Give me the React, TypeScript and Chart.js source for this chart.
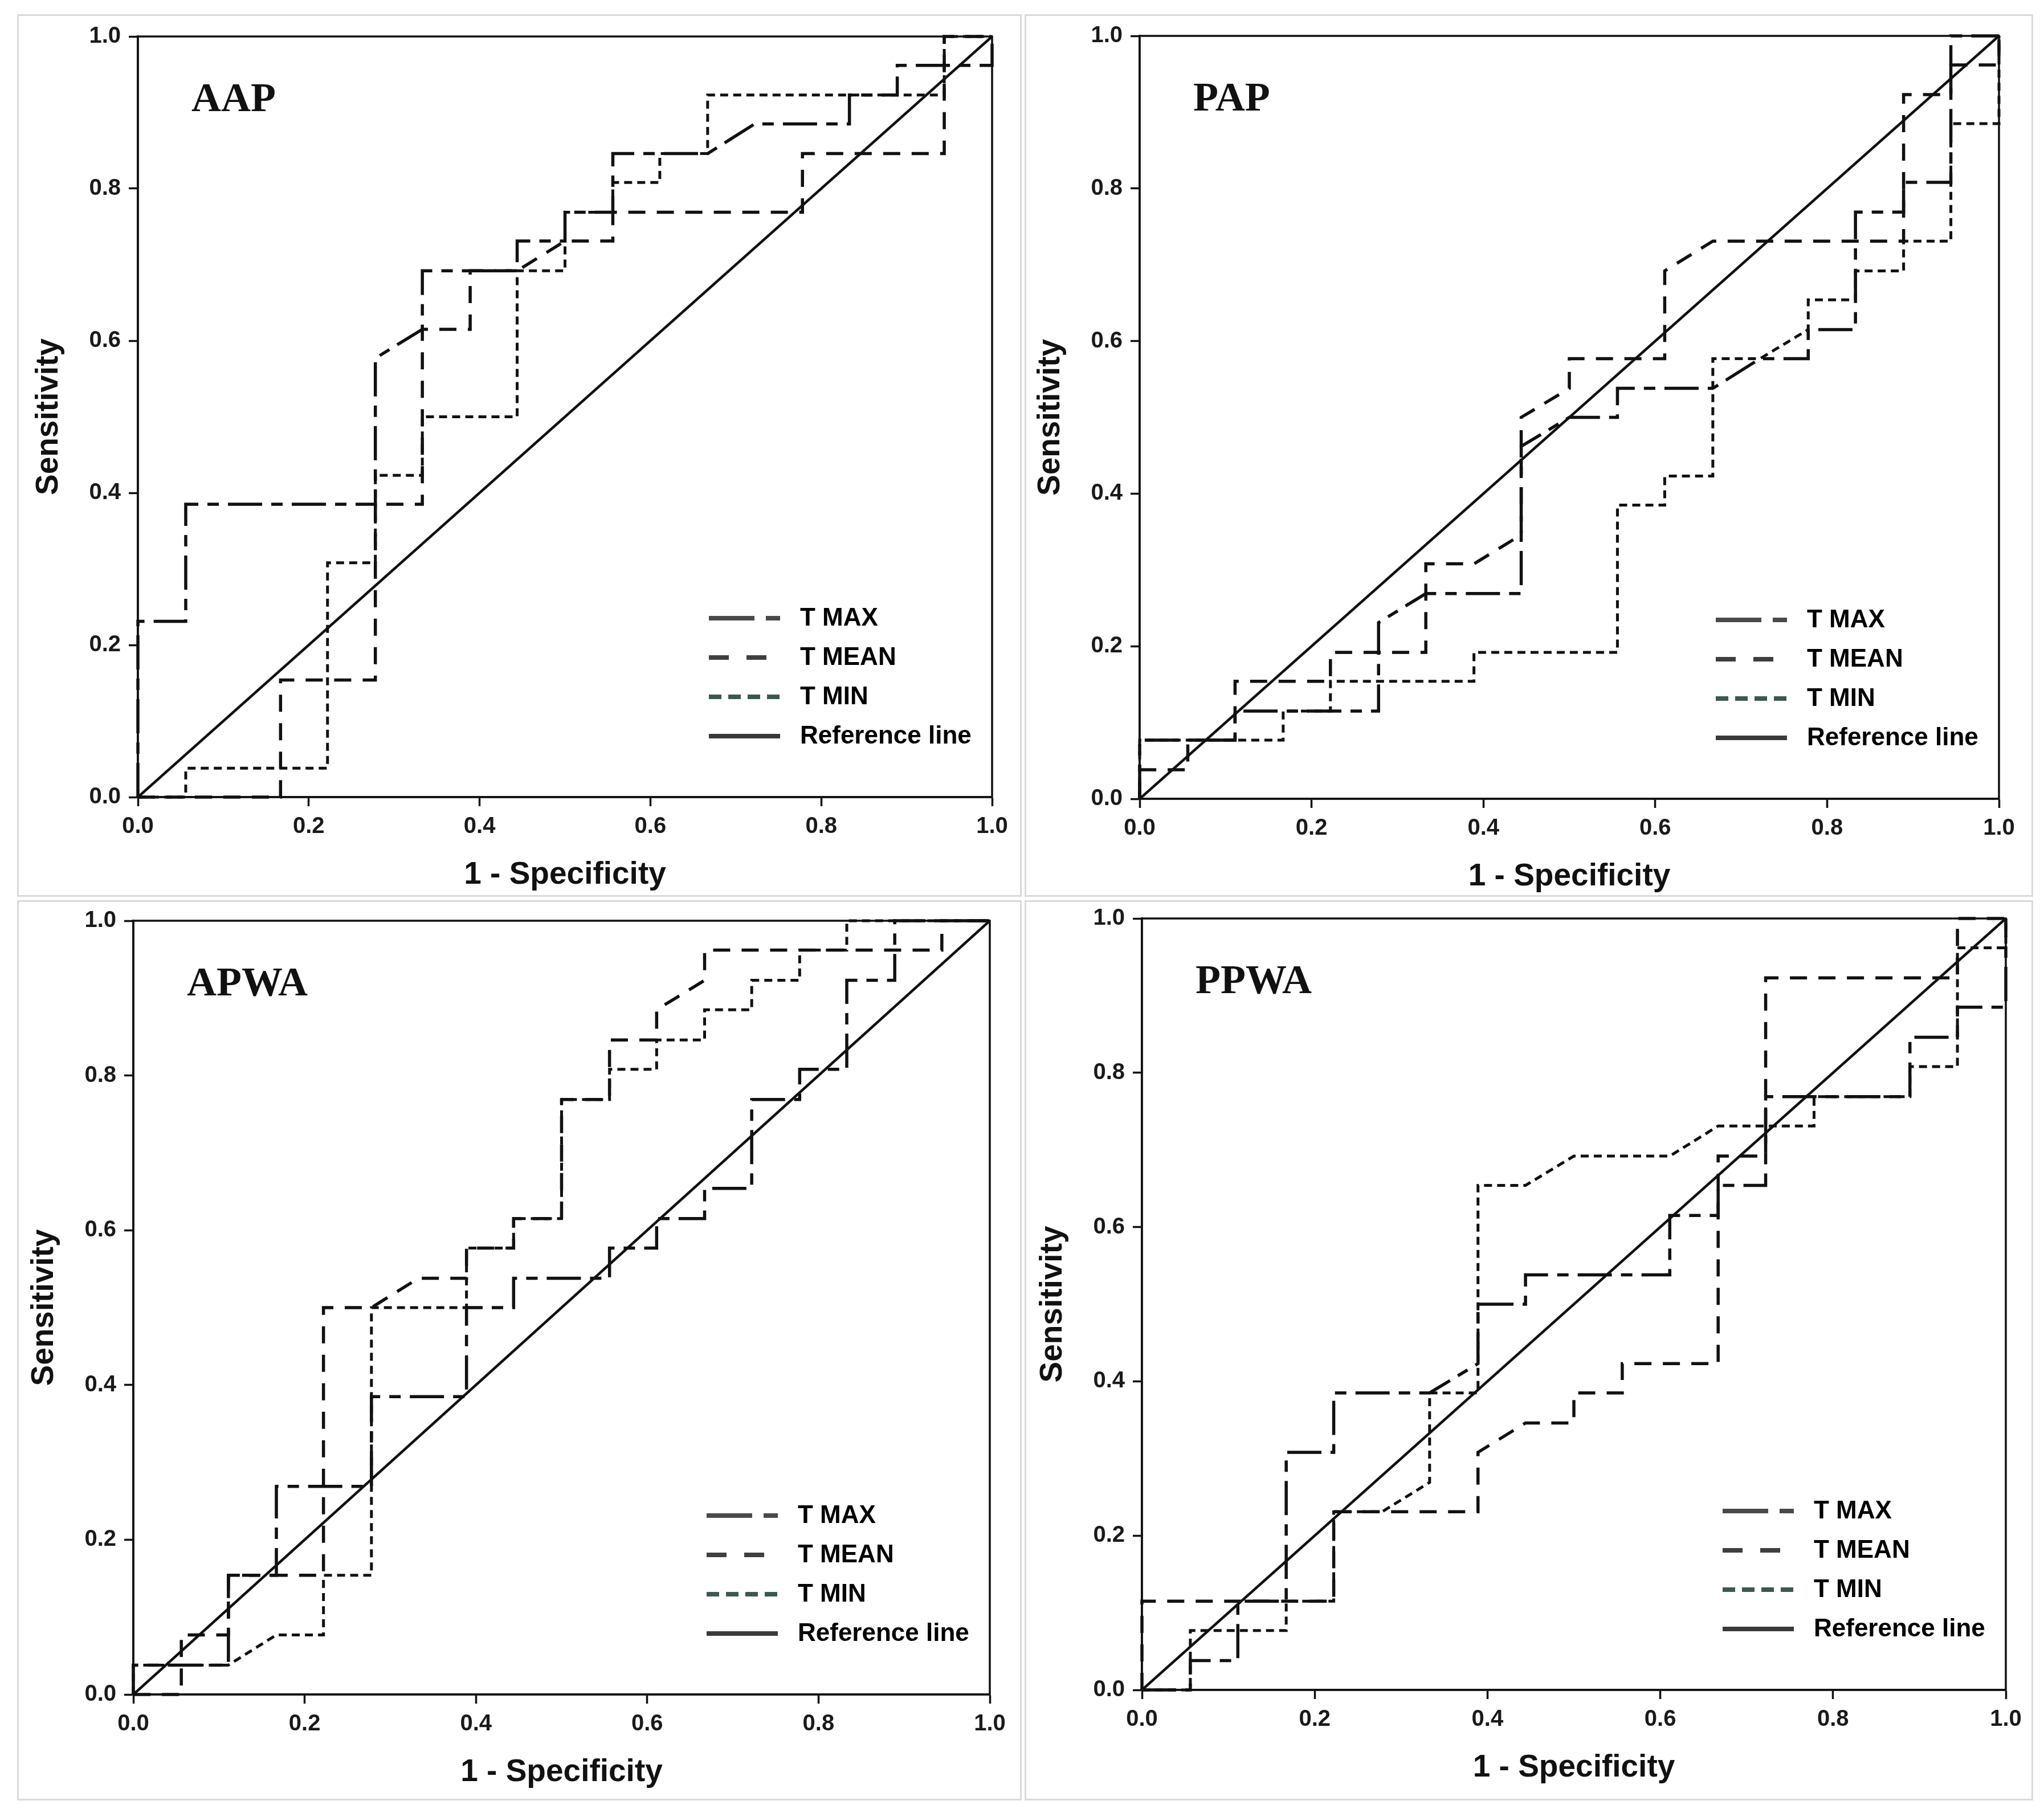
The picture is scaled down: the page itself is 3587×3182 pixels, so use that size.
import React, { useEffect, useRef } from "react";
import { Chart, registerables } from "chart.js";
Chart.register(...registerables);

// ---------- text ----------
const SERIES_LABELS = ["T MAX", "T MEAN", "T MIN", "Reference line"];
const PANEL_NAMES = ["AAP", "PAP", "APWA", "PPWA"];
const X_TITLE = "1 - Specificity";
const Y_TITLE = "Sensitivity";
const TICK_VALUES = [0, 0.2, 0.4, 0.6, 0.8, 1.0];

// ---------- data (1 - specificity, sensitivity) ----------
const AAP_TMAX_X = [0, 0, 0.056, 0.056, 0.278, 0.278, 0.333, 0.333, 0.444, 0.444, 0.5, 0.5, 0.556, 0.556, 0.667, 0.722, 0.833, 0.833, 0.889, 0.889, 1, 1];
const AAP_TMAX_Y = [0, 0.231, 0.231, 0.385, 0.385, 0.577, 0.615, 0.692, 0.692, 0.731, 0.731, 0.769, 0.769, 0.846, 0.846, 0.885, 0.885, 0.923, 0.923, 0.962, 0.962, 1];
const AAP_TMEAN_X = [0, 0.167, 0.167, 0.278, 0.278, 0.333, 0.333, 0.389, 0.389, 0.444, 0.5, 0.556, 0.556, 0.778, 0.778, 0.944, 0.944, 1];
const AAP_TMEAN_Y = [0, 0, 0.154, 0.154, 0.385, 0.385, 0.615, 0.615, 0.692, 0.692, 0.731, 0.731, 0.769, 0.769, 0.846, 0.846, 1, 1];
const AAP_TMIN_X = [0, 0.056, 0.056, 0.222, 0.222, 0.278, 0.278, 0.333, 0.333, 0.444, 0.444, 0.5, 0.5, 0.556, 0.556, 0.611, 0.611, 0.667, 0.667, 0.944, 0.944, 1];
const AAP_TMIN_Y = [0, 0, 0.038, 0.038, 0.308, 0.308, 0.423, 0.423, 0.5, 0.5, 0.692, 0.692, 0.769, 0.769, 0.808, 0.808, 0.846, 0.846, 0.923, 0.923, 1, 1];

const PAP_TMAX_X = [0, 0, 0.111, 0.111, 0.278, 0.278, 0.333, 0.444, 0.444, 0.5, 0.556, 0.556, 0.667, 0.722, 0.778, 0.778, 0.833, 0.833, 0.889, 0.889, 0.944, 0.944, 1];
const PAP_TMAX_Y = [0, 0.077, 0.077, 0.115, 0.115, 0.231, 0.269, 0.269, 0.462, 0.5, 0.5, 0.538, 0.538, 0.577, 0.577, 0.615, 0.615, 0.769, 0.769, 0.808, 0.808, 1, 1];
const PAP_TMEAN_X = [0, 0, 0.056, 0.056, 0.111, 0.111, 0.222, 0.222, 0.333, 0.333, 0.389, 0.444, 0.444, 0.5, 0.5, 0.611, 0.611, 0.667, 0.889, 0.889, 0.944, 0.944, 1, 1];
const PAP_TMEAN_Y = [0, 0.038, 0.038, 0.077, 0.077, 0.154, 0.154, 0.192, 0.192, 0.308, 0.308, 0.346, 0.5, 0.538, 0.577, 0.577, 0.692, 0.731, 0.731, 0.923, 0.923, 0.962, 0.962, 1];
const PAP_TMIN_X = [0, 0, 0.167, 0.167, 0.222, 0.222, 0.389, 0.389, 0.556, 0.556, 0.611, 0.611, 0.667, 0.667, 0.722, 0.778, 0.778, 0.833, 0.833, 0.889, 0.889, 0.944, 0.944, 1, 1];
const PAP_TMIN_Y = [0, 0.077, 0.077, 0.115, 0.115, 0.154, 0.154, 0.192, 0.192, 0.385, 0.385, 0.423, 0.423, 0.577, 0.577, 0.615, 0.654, 0.654, 0.692, 0.692, 0.731, 0.731, 0.885, 0.885, 1];

const APWA_TMAX_X = [0, 0, 0.111, 0.111, 0.167, 0.167, 0.278, 0.278, 0.389, 0.389, 0.444, 0.444, 0.556, 0.556, 0.611, 0.611, 0.667, 0.667, 0.722, 0.722, 0.778, 0.778, 0.833, 0.833, 0.889, 0.889, 1];
const APWA_TMAX_Y = [0, 0.038, 0.038, 0.154, 0.154, 0.269, 0.269, 0.385, 0.385, 0.5, 0.5, 0.538, 0.538, 0.577, 0.577, 0.615, 0.615, 0.654, 0.654, 0.769, 0.769, 0.808, 0.808, 0.923, 0.923, 1, 1];
const APWA_TMEAN_X = [0, 0.056, 0.056, 0.111, 0.111, 0.222, 0.222, 0.278, 0.333, 0.389, 0.389, 0.444, 0.444, 0.5, 0.5, 0.556, 0.556, 0.611, 0.611, 0.667, 0.667, 0.944, 0.944, 1];
const APWA_TMEAN_Y = [0, 0, 0.077, 0.077, 0.154, 0.154, 0.5, 0.5, 0.538, 0.538, 0.577, 0.577, 0.615, 0.615, 0.769, 0.769, 0.846, 0.846, 0.885, 0.923, 0.962, 0.962, 1, 1];
const APWA_TMIN_X = [0, 0, 0.111, 0.167, 0.222, 0.222, 0.278, 0.278, 0.389, 0.389, 0.444, 0.444, 0.5, 0.5, 0.556, 0.556, 0.611, 0.611, 0.667, 0.667, 0.722, 0.722, 0.778, 0.778, 0.833, 0.833, 1];
const APWA_TMIN_Y = [0, 0.038, 0.038, 0.077, 0.077, 0.154, 0.154, 0.5, 0.5, 0.577, 0.577, 0.615, 0.615, 0.769, 0.769, 0.808, 0.808, 0.846, 0.846, 0.885, 0.885, 0.923, 0.923, 0.962, 0.962, 1, 1];

const PPWA_TMAX_X = [0, 0.056, 0.056, 0.111, 0.111, 0.167, 0.167, 0.222, 0.222, 0.333, 0.389, 0.389, 0.444, 0.444, 0.611, 0.611, 0.667, 0.667, 0.722, 0.722, 0.889, 0.889, 0.944, 0.944, 1, 1];
const PPWA_TMAX_Y = [0, 0, 0.038, 0.038, 0.115, 0.115, 0.308, 0.308, 0.385, 0.385, 0.423, 0.5, 0.5, 0.538, 0.538, 0.615, 0.615, 0.654, 0.654, 0.769, 0.769, 0.846, 0.846, 0.885, 0.885, 1];
const PPWA_TMEAN_X = [0, 0, 0.222, 0.222, 0.389, 0.389, 0.444, 0.5, 0.5, 0.556, 0.556, 0.667, 0.667, 0.722, 0.722, 0.944, 0.944, 1];
const PPWA_TMEAN_Y = [0, 0.115, 0.115, 0.231, 0.231, 0.308, 0.346, 0.346, 0.385, 0.385, 0.423, 0.423, 0.692, 0.692, 0.923, 0.923, 1, 1];
const PPWA_TMIN_X = [0, 0.056, 0.056, 0.167, 0.167, 0.222, 0.222, 0.278, 0.333, 0.333, 0.389, 0.389, 0.444, 0.5, 0.611, 0.667, 0.778, 0.778, 0.889, 0.889, 0.944, 0.944, 1, 1];
const PPWA_TMIN_Y = [0, 0, 0.077, 0.077, 0.115, 0.115, 0.231, 0.231, 0.269, 0.385, 0.385, 0.654, 0.654, 0.692, 0.692, 0.731, 0.731, 0.769, 0.769, 0.808, 0.808, 0.962, 0.962, 1];

const REF_X = [0, 1];
const REF_Y = [0, 1];

const PANEL_SERIES = [
  [[AAP_TMAX_X, AAP_TMAX_Y], [AAP_TMEAN_X, AAP_TMEAN_Y], [AAP_TMIN_X, AAP_TMIN_Y], [REF_X, REF_Y]],
  [[PAP_TMAX_X, PAP_TMAX_Y], [PAP_TMEAN_X, PAP_TMEAN_Y], [PAP_TMIN_X, PAP_TMIN_Y], [REF_X, REF_Y]],
  [[APWA_TMAX_X, APWA_TMAX_Y], [APWA_TMEAN_X, APWA_TMEAN_Y], [APWA_TMIN_X, APWA_TMIN_Y], [REF_X, REF_Y]],
  [[PPWA_TMAX_X, PPWA_TMAX_Y], [PPWA_TMEAN_X, PPWA_TMEAN_Y], [PPWA_TMIN_X, PPWA_TMIN_Y], [REF_X, REF_Y]],
];

// ---------- layout & style ----------
// plot rectangles (left, top, right, bottom) in page pixels
const PLOT_RECTS = [
  [242, 54, 1741, 1399],
  [2000, 53, 3508, 1402],
  [234, 1606, 1737, 2974],
  [2004, 1602, 3520, 2966],
];
// panel frames (left, top, right, bottom)
const FRAME_RECTS = [
  [30, 25, 1793, 1574],
  [1798, 25, 3568, 1574],
  [30, 1580, 1793, 3160],
  [1798, 1580, 3568, 3160],
];

const PAD_LEFT = 21;
const Y_AXIS_W = 189;
const PAD_TOP = 28;
const PAD_RIGHT = 50;
const X_AXIS_H = 170;
const PAD_BOTTOM = 5;

const LINE_COLOR = "#111111";
const SERIES_STYLE = [
  { dash: [60, 16, 20, 16], width: 5.5, legendDash: [80, 20, 25, 300], legendColor: "#4a4a4a" },
  { dash: [30, 20], width: 5.5, legendDash: [35, 31], legendColor: "#3f3f3f" },
  { dash: [14, 9], width: 5, legendDash: [22, 12], legendColor: "#3d5853" },
  { dash: [], width: 4.5, legendDash: [], legendColor: "#3a3a3a" },
];
const LEGEND_ROW_OFFSETS = [-314, -245, -176, -107];
const SANS = "'Liberation Sans', Arial, sans-serif";
const SERIF = "'Liberation Serif', 'Times New Roman', serif";

function makeOverlay(panelName: string) {
  return {
    id: "overlay-" + panelName,
    afterDraw(chart: any) {
      const { ctx, chartArea } = chart;
      const { left, top, right, bottom } = chartArea;
      ctx.save();
      // plot frame
      ctx.strokeStyle = LINE_COLOR;
      ctx.lineWidth = 3.5;
      ctx.setLineDash([]);
      ctx.strokeRect(left, top, right - left, bottom - top);
      // panel name
      ctx.fillStyle = "#111";
      ctx.font = `bold 72px ${SERIF}`;
      ctx.textAlign = "left";
      ctx.textBaseline = "middle";
      ctx.fillText(panelName, left + 94, top + 112);
      // legend
      chart.data.datasets.forEach((ds: any, i: number) => {
        const st = SERIES_STYLE[i];
        const y = bottom + LEGEND_ROW_OFFSETS[i];
        ctx.beginPath();
        ctx.strokeStyle = st.legendColor;
        ctx.lineWidth = 8;
        ctx.lineCap = "butt";
        ctx.setLineDash(st.legendDash);
        ctx.moveTo(right - 497, y);
        ctx.lineTo(right - 372, y);
        ctx.stroke();
        ctx.setLineDash([]);
        ctx.fillStyle = "#000";
        ctx.font = `bold 44px ${SANS}`;
        ctx.textAlign = "left";
        ctx.textBaseline = "middle";
        ctx.fillText(ds.label, right - 337, y + 1);
      });
      ctx.restore();
    },
  };
}

function RocPanel({ index }: { index: number }) {
  const ref = useRef<HTMLCanvasElement | null>(null);
  const [pl, pt, pr, pb] = PLOT_RECTS[index];
  const cw = pr - pl + PAD_LEFT + Y_AXIS_W + PAD_RIGHT;
  const ch = pb - pt + PAD_TOP + X_AXIS_H + PAD_BOTTOM;
  const cl = pl - PAD_LEFT - Y_AXIS_W;
  const ct = pt - PAD_TOP;

  useEffect(() => {
    if (!ref.current) return;
    const series = PANEL_SERIES[index];
    const tickFont = { family: SANS, size: 40, weight: "bold" as const };
    const titleFont = { family: SANS, size: 55, weight: "bold" as const };
    const axisCommon = (title: string) => ({
      type: "linear" as const,
      min: 0,
      max: 1,
      afterBuildTicks: (s: any) => {
        s.ticks = TICK_VALUES.map((v) => ({ value: v }));
      },
      ticks: {
        stepSize: 0.2,
        autoSkip: false,
        maxRotation: 0,
        color: "#1a1a1a",
        font: tickFont,
        callback: (v: any) => Number(v).toFixed(1),
      },
      grid: {
        display: true,
        drawOnChartArea: false,
        drawTicks: true,
        tickLength: 16,
        tickWidth: 3.5,
        color: LINE_COLOR,
      },
      border: { display: true, color: LINE_COLOR, width: 3.5 },
      title: { display: true, text: title, color: "#111", font: titleFont, padding: 0 },
    });
    const xAxis: any = axisCommon(X_TITLE);
    xAxis.ticks.padding = 12;
    xAxis.afterFit = (s: any) => {
      s.height = X_AXIS_H;
    };
    const yAxis: any = axisCommon(Y_TITLE);
    yAxis.ticks.padding = 14;
    yAxis.afterFit = (s: any) => {
      s.width = Y_AXIS_W;
    };

    const chart = new Chart(ref.current, {
      type: "line",
      data: {
        datasets: series.map(([xs, ys], i) => ({
          label: SERIES_LABELS[i],
          data: xs.map((x: number, k: number) => ({ x, y: ys[k] })),
          borderColor: LINE_COLOR,
          borderWidth: SERIES_STYLE[i].width,
          borderDash: SERIES_STYLE[i].dash,
          borderCapStyle: "butt",
          borderJoinStyle: "miter",
          pointRadius: 0,
          pointHoverRadius: 0,
          tension: 0,
          fill: false,
          clip: 6,
        })),
      },
      options: {
        animation: false,
        responsive: false,
        maintainAspectRatio: false,
        devicePixelRatio: 1,
        events: [],
        layout: { padding: { left: PAD_LEFT, top: PAD_TOP, right: PAD_RIGHT, bottom: PAD_BOTTOM } },
        plugins: { legend: { display: false }, tooltip: { enabled: false }, title: { display: false } },
        scales: { x: xAxis, y: yAxis },
      } as any,
      plugins: [makeOverlay(PANEL_NAMES[index])],
    });
    return () => chart.destroy();
  }, [index]);

  return (
    <canvas
      ref={ref}
      width={cw}
      height={ch}
      style={{ position: "absolute", left: cl, top: ct, width: cw, height: ch }}
    />
  );
}

export default function App() {
  return (
    <div
      style={{
        position: "absolute",
        left: 0,
        top: 0,
        width: 3587,
        height: 3182,
        background: "#ffffff",
        overflow: "hidden",
      }}
    >
      {FRAME_RECTS.map(([l, t, r, b], i) => (
        <div
          key={"f" + i}
          style={{
            position: "absolute",
            left: l,
            top: t,
            width: r - l,
            height: b - t,
            border: "3px solid #d9d9d9",
            boxSizing: "border-box",
          }}
        />
      ))}
      {PANEL_NAMES.map((_, i) => (
        <RocPanel key={i} index={i} />
      ))}
    </div>
  );
}
